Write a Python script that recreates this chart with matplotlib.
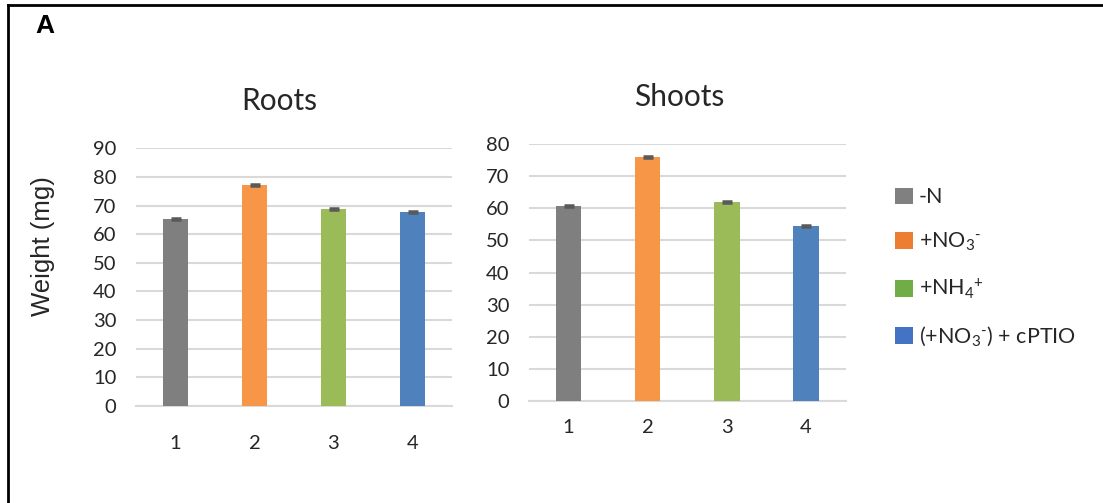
import matplotlib
matplotlib.use("Agg")
import matplotlib.pyplot as plt
from matplotlib.patches import Patch
from matplotlib.lines import Line2D

plt.rcParams['font.family'] = ['Lato', 'DejaVu Sans']
plt.rcParams['mathtext.fontset'] = 'custom'
plt.rcParams['mathtext.rm'] = 'Lato'
plt.rcParams['mathtext.it'] = 'Lato:italic'
plt.rcParams['mathtext.bf'] = 'Lato:bold'

# Data
categories = ['1', '2', '3', '4']
roots_weight = [65.4, 77.2, 68.8, 67.9]
roots_err = [0.3, 0.3, 0.3, 0.3]
shoots_weight = [60.6, 75.9, 61.9, 54.5]
shoots_err = [0.3, 0.3, 0.3, 0.3]
treatments = ['-N', r'+NO$_{3}{}^{\text{-}}$', r'+NH$_{4}{}^{+}$',
              r'(+NO$_{3}{}^{\text{-}}$) + cPTIO']

bar_colors = ['#7F7F7F', '#F79646', '#9BBB59', '#4F81BD']
legend_colors = ['#808080', '#ED7D31', '#70AD47', '#4472C4']
grid_color = '#D9D9D9'
text_color = '#262626'

fig = plt.figure(figsize=(11.03, 5.03), dpi=100)
W, H = 1103, 503


def panel(rect, values, errs, ymax, title, title_xy, xpad):
    ax = fig.add_axes(rect)
    x = list(range(1, len(values) + 1))
    ax.bar(x, values, width=0.32, color=bar_colors, zorder=3)
    ax.errorbar(x, values, yerr=errs, fmt='none', ecolor='#595959',
                elinewidth=1.0, capsize=3.5, capthick=1.8, zorder=4)
    ax.set_xlim(0.5, len(values) + 0.5)
    ax.set_ylim(0, ymax)
    ax.set_yticks(range(0, ymax + 1, 10))
    ax.set_xticks(x)
    ax.set_xticklabels(categories)
    ax.yaxis.grid(True, color=grid_color, linewidth=1.5, zorder=0)
    for s in ('top', 'right', 'left'):
        ax.spines[s].set_visible(False)
    ax.spines['bottom'].set_color(grid_color)
    ax.spines['bottom'].set_linewidth(1.5)
    ax.tick_params(axis='both', length=0, labelsize=14.5, colors=text_color)
    ax.tick_params(axis='y', pad=14)
    ax.tick_params(axis='x', pad=xpad)
    fig.text(title_xy[0] / W, 1 - title_xy[1] / H, title, fontsize=21.5,
             ha='center', va='center', color=text_color)
    return ax


ax_r = panel([136 / W, 1 - 405.7 / H, 316 / W, 257.2 / H], roots_weight, roots_err,
             90, 'Roots', (279, 101), 21)
ax_s = panel([529 / W, 1 - 401 / H, 316.7 / W, 257 / H], shoots_weight, shoots_err,
             80, 'Shoots', (679, 97), 13)

fig.text(43 / W, 1 - 246 / H, 'Weight (mg)', rotation=90, fontsize=18.5,
         family=['Liberation Sans'], ha='center', va='center', color=text_color)

fig.text(45 / W, 1 - 26 / H, 'A', fontsize=19, fontweight='bold',
         family=['Liberation Sans'], ha='center', va='center', color='black')

handles = [Patch(facecolor=c, edgecolor='none') for c in legend_colors]
fig.legend(handles, treatments, loc='upper left',
           bbox_to_anchor=(876 / W, 1 - 168 / H), frameon=False,
           fontsize=15.5, handlelength=0.8, handleheight=0.8,
           handletextpad=0.3, labelspacing=1.1, labelcolor=text_color)

# Outer frame (top and left edges)
fig.add_artist(Line2D([8 / W, 1], [1 - 5 / H, 1 - 5 / H], color='black',
                      linewidth=2, transform=fig.transFigure))
fig.add_artist(Line2D([8 / W, 8 / W], [0, 1 - 5 / H], color='black',
                      linewidth=2, transform=fig.transFigure))

fig.savefig('out.png', dpi=100, facecolor='white')
